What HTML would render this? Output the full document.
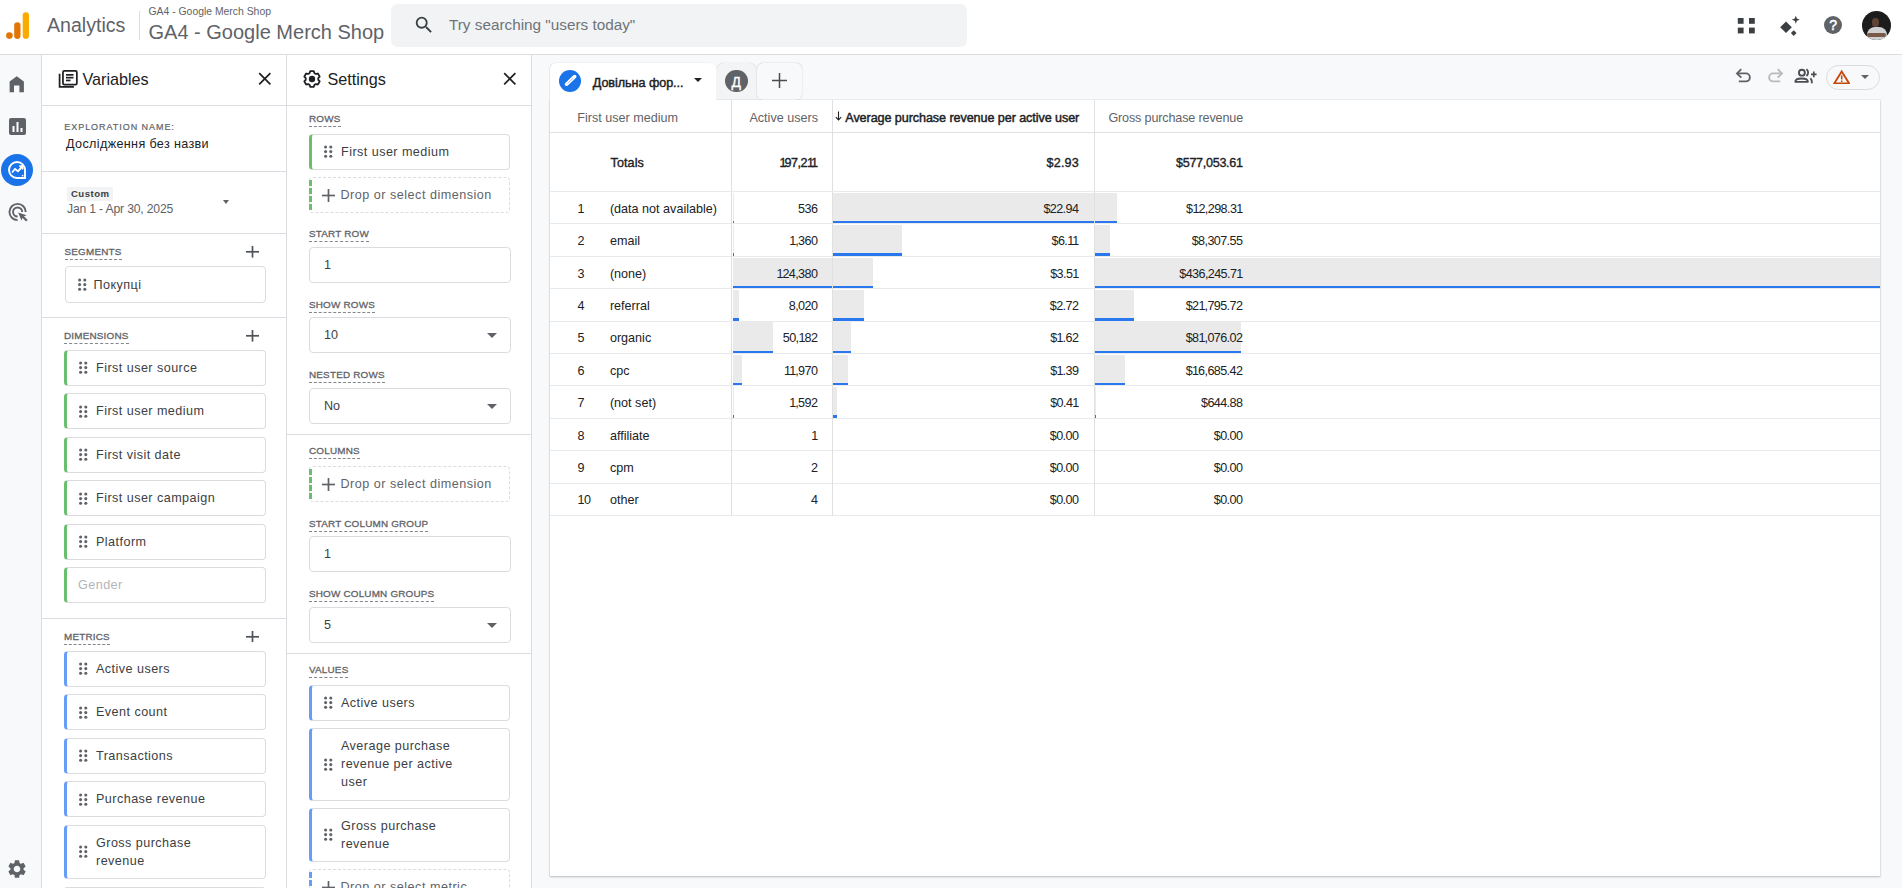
<!DOCTYPE html>
<html><head><meta charset="utf-8">
<style>
*{box-sizing:border-box}
html,body{margin:0;padding:0}
body{width:1902px;height:888px;overflow:hidden;position:relative;background:#f8f9fa;font-family:"Liberation Sans",Arial,sans-serif;color:#202124}
.a{position:absolute}
.t{position:absolute;white-space:nowrap}
#hdr{left:0;top:0;width:1902px;height:55px;background:#fff;border-bottom:1px solid #dadce0}
#rail{left:0;top:55px;width:42px;height:833px;background:#f8f9fa;border-right:1px solid #dadce0}
#vars{left:42px;top:55px;width:245px;height:833px;background:#fff;border-right:1px solid #dadce0}
#sets{left:287px;top:55px;width:245px;height:833px;background:#fff;border-right:1px solid #dadce0}
.hline{position:absolute;height:1px;background:#dadce0}
.lbl{position:absolute;font-size:9.9px;font-weight:400;letter-spacing:0.2px;color:#5f6368;-webkit-text-stroke:0.3px #5f6368;line-height:11px;border-bottom:1px dashed #80868b;padding-bottom:2.1px;white-space:nowrap}
.chip{position:absolute;background:#fff;border:1px solid #dadce0;border-radius:4px;font-size:12.6px;letter-spacing:0.45px;color:#3c4043;white-space:nowrap}
.chip.g{border-left:3px solid #6abf6e}
.chip.b{border-left:3px solid #669df6}
.chip .tx{position:absolute;left:29px;top:50%;transform:translateY(-50%);line-height:18px}
.dots{position:absolute;left:12px;top:50%;margin-top:-6.6px;width:9px;height:13px}
.dots i{position:absolute;width:3.2px;height:3.2px;border-radius:50%;background:#5f6368}
.drop{position:absolute;border:1px dashed #dadce0;border-radius:4px;font-size:12.6px;color:#5f6368;white-space:nowrap}
.drop:before{content:"";position:absolute;left:-1px;top:2px;bottom:2px;border-left:3px dashed #6abf6e}
.drop.bl:before{border-left-color:#669df6}
.inp{position:absolute;border:1px solid #dadce0;border-radius:4px;background:#fff;font-size:12.6px;color:#3c4043}
.inp .v{position:absolute;left:14px;top:50%;transform:translateY(-50%);line-height:16px}
.inp .arr{position:absolute;right:13px;top:50%;margin-top:-2px;width:0;height:0;border-left:5px solid transparent;border-right:5px solid transparent;border-top:5px solid #5f6368}
.plus{position:absolute;width:14px;height:14px}
.plus:before,.plus:after{content:"";position:absolute;background:#3c4043}
.plus:before{left:6px;top:0;width:2px;height:14px}
.plus:after{left:0;top:6px;width:14px;height:2px}
</style></head><body>

<!-- HEADER -->
<div id="hdr" class="a">
  <svg class="a" style="left:5px;top:11px" width="26" height="30" viewBox="0 0 26 30">
    <rect x="17.7" y="1.2" width="6.3" height="26.7" rx="3.15" fill="#f9ab00"/>
    <rect x="9.2" y="11.3" width="6.3" height="16.6" rx="3.15" fill="#e37400"/>
    <circle cx="4.4" cy="24.6" r="3.3" fill="#e37400"/>
  </svg>
  <div class="t" style="left:47px;top:13px;font-size:19.6px;line-height:24px;color:#5f6368">Analytics</div>
  <div class="a" style="left:139px;top:11px;width:1px;height:29px;background:#dadce0"></div>
  <div class="t" style="left:148.5px;top:5px;font-size:10.4px;line-height:13px;color:#5f6368">GA4 - Google Merch Shop</div>
  <div class="t" style="left:148.5px;top:20.3px;font-size:20px;line-height:24px;color:#5f6368">GA4 - Google Merch Shop</div>
  <div class="a" style="left:391px;top:4px;width:576px;height:43px;background:#f1f3f4;border-radius:6.5px"></div>
  <svg class="a" style="left:413px;top:14px" width="22" height="22" viewBox="0 0 24 24"><path fill="#3c4043" d="M15.5 14h-.79l-.28-.27A6.47 6.47 0 0 0 16 9.5 6.5 6.5 0 1 0 9.5 16c1.61 0 3.09-.59 4.23-1.57l.27.28v.79l5 4.99L20.49 19l-4.99-5zm-6 0C7.01 14 5 11.99 5 9.5S7.01 5 9.5 5 14 7.01 14 9.5 11.99 14 9.5 14z"/></svg>
  <div class="t" style="left:449px;top:16px;font-size:15.3px;line-height:18px;color:#6f7378">Try searching "users today"</div>
  <!-- apps grid -->
  <svg class="a" style="left:1737px;top:17px" width="19" height="18" viewBox="0 0 19 18">
    <rect x="0.8" y="1" width="5.8" height="5.8" fill="#3c4043"/><rect x="12" y="1" width="5.8" height="5.8" fill="#3c4043"/>
    <rect x="0.8" y="10.6" width="5.8" height="5.8" fill="#3c4043"/><rect x="12" y="10.6" width="5.8" height="5.8" fill="#3c4043"/>
  </svg>
  <!-- sparkle -->
  <svg class="a" style="left:1779px;top:15px" width="22" height="22" viewBox="0 0 22 22">
    <path d="M7 6.4 L12.8 12.2 L7 18 L1.2 12.2 Z" fill="#3c4043"/>
    <path d="M16.8 0.7 L17.9 3.6 L20.8 4.7 L17.9 5.8 L16.8 8.7 L15.7 5.8 L12.8 4.7 L15.7 3.6 Z" fill="#3c4043"/>
    <path d="M14.7 15.3 L17.5 18.1 L14.7 20.9 L11.9 18.1 Z" fill="#3c4043"/>
  </svg>
  <!-- help -->
  <div class="a" style="left:1824px;top:16px;width:18.3px;height:18.3px;border-radius:50%;background:#5f6368;color:#fff;font-size:14px;line-height:19px;text-align:center;-webkit-text-stroke:0.5px #fff">?</div>
  <!-- avatar -->
  <div class="a" style="left:1862px;top:11px;width:29px;height:29px;border-radius:50%;background:#1c1c1c;overflow:hidden">
    <div class="a" style="left:10.2px;top:6.5px;width:6.8px;height:9px;border-radius:45%;background:#5e4336"></div>
    <div class="a" style="left:4.5px;top:15.5px;width:20px;height:15px;border-radius:8px 8px 1px 1px;background:#cfd0d2"></div>
    <div class="a" style="left:5px;top:21.5px;width:19px;height:4px;border-radius:2px;background:#7a5a47"></div>
  </div>
</div>

<!-- NAV RAIL -->
<div id="rail" class="a">
  <svg class="a" style="left:8px;top:19.5px" width="18" height="19" viewBox="0 0 18 19"><path d="M8.75 1.2 L15.9 6.6 V17.3 H11.4 V10.4 H6 V17.3 H1.6 V6.6 Z" fill="#5f6368"/></svg>
  <svg class="a" style="left:9px;top:63px" width="17" height="17" viewBox="0 0 17 17"><rect x="0" y="0" width="17" height="17" rx="2" fill="#5f6368"/><rect x="3.5" y="8" width="2" height="6" fill="#fff"/><rect x="7.5" y="4" width="2" height="10" fill="#fff"/><rect x="11.5" y="10" width="2" height="4" fill="#fff"/></svg>
  <div class="a" style="left:1px;top:99px;width:32px;height:32px;border-radius:50%;background:#1a73e8"></div>
  <svg class="a" style="left:7px;top:105px" width="20" height="20" viewBox="0 0 20 20"><path d="M18 10 A8 8 0 1 0 10 18 H18 Z" fill="none" stroke="#fff" stroke-width="1.9"/><path d="M5 12.5 L8 9 L11 11.3 L14.8 7" fill="none" stroke="#fff" stroke-width="1.9"/><path d="M12.3 6.2 H15.5 V9.4" fill="none" stroke="#fff" stroke-width="1.7"/><circle cx="15.6" cy="15.6" r="0.9" fill="#fff"/></svg>
  <svg class="a" style="left:8px;top:147px" width="22" height="22" viewBox="0 0 22 22"><path d="M9.6 18.15 A8.15 8.15 0 1 1 17.75 10" fill="none" stroke="#5f6368" stroke-width="1.9"/><path d="M9.6 14.55 A4.55 4.55 0 1 1 14.15 10" fill="none" stroke="#5f6368" stroke-width="1.9"/><path d="M10.2 10.4 L18.6 13.3 L15 14.7 L13.4 18.6 Z" fill="#5f6368"/><path d="M14.4 14.2 L18.9 18.7" stroke="#5f6368" stroke-width="2.3"/></svg>
  <svg class="a" style="left:6.3px;top:803px" width="22" height="22" viewBox="0 0 24 24"><path fill="#5f6368" d="M19.14 12.94c.04-.3.06-.61.06-.94 0-.32-.02-.64-.07-.94l2.03-1.58a.49.49 0 0 0 .12-.61l-1.92-3.32a.488.488 0 0 0-.59-.22l-2.39.96c-.5-.38-1.03-.7-1.62-.94l-.36-2.54a.484.484 0 0 0-.48-.41h-3.84c-.24 0-.43.17-.47.41l-.36 2.54c-.59.24-1.13.57-1.62.94l-2.39-.96c-.22-.08-.47 0-.59.22L2.74 8.87c-.12.21-.08.47.12.61l2.03 1.58c-.05.3-.09.63-.09.94s.02.64.07.94l-2.03 1.58a.49.49 0 0 0-.12.61l1.92 3.32c.12.22.37.29.59.22l2.39-.96c.5.38 1.03.7 1.62.94l.36 2.54c.05.24.24.41.48.41h3.84c.24 0 .44-.17.47-.41l.36-2.54c.59-.24 1.13-.56 1.62-.94l2.39.96c.22.08.47 0 .59-.22l1.92-3.32c.12-.22.07-.47-.12-.61l-2.01-1.58zM12 15.6c-1.98 0-3.6-1.62-3.6-3.6s1.62-3.6 3.6-3.6 3.6 1.62 3.6 3.6-1.62 3.6-3.6 3.6z"/></svg>
</div>

<div id="vars" class="a"></div><div id="sets" class="a"></div>
<svg class="a" style="left:58px;top:70px" width="20" height="18" viewBox="0 0 20 18"><path d="M1.6 3.8 V16.9 H15.9" fill="none" stroke="#202124" stroke-width="1.75"/><rect x="4.95" y="0.95" width="13.9" height="13.6" rx="1.3" fill="none" stroke="#202124" stroke-width="1.75"/><rect x="8" y="4" width="7.5" height="1.7" fill="#202124"/><rect x="8" y="6.8" width="7.5" height="1.7" fill="#202124"/><rect x="8" y="9.6" width="4.5" height="1.7" fill="#202124"/></svg>
<div class="t" style="top:71.09px;font-size:16.2px;line-height:16.2px;left:82.40px;color:#202124;">Variables</div>
<svg class="a" style="left:257.80px;top:72.20px" width="13.6" height="13.6" viewBox="0 0 13.6 13.6"><path d="M1.2 1.2 L12.4 12.4 M12.4 1.2 L1.2 12.4" stroke="#202124" stroke-width="1.75"/></svg>
<div class="a" style="left:42.00px;top:105.00px;width:244.00px;height:1.00px;background:#dadce0"></div>
<div class="t" style="top:122.58px;font-size:9px;line-height:9px;left:64.30px;color:#5f6368;letter-spacing:0.95px;-webkit-text-stroke:0.2px #5f6368;">EXPLORATION NAME:</div>
<div class="t" style="top:137.73px;font-size:12.6px;line-height:12.6px;left:66.10px;color:#202124;letter-spacing:0.35px;">Дослідження без назви</div>
<div class="a" style="left:42.00px;top:171.00px;width:244.00px;height:1.00px;background:#dadce0"></div>
<div class="a" style="left:67.00px;top:187.00px;width:46.00px;height:14.00px;background:#f1f3f4"></div>
<div class="t" style="top:188.97px;font-size:9.6px;line-height:9.6px;left:70.90px;font-weight:700;color:#3c4043;letter-spacing:0.5px;">Custom</div>
<div class="t" style="top:203.27px;font-size:12.2px;line-height:12.2px;left:67.00px;color:#5f6368;letter-spacing:-0.18px;">Jan 1 - Apr 30, 2025</div>
<div class="a" style="left:222.5px;top:200px;width:0;height:0;border-left:3.6px solid transparent;border-right:3.6px solid transparent;border-top:4px solid #5f6368"></div>
<div class="a" style="left:42.00px;top:233.00px;width:244.00px;height:1.00px;background:#dadce0"></div>
<div class="lbl" style="left:64.50px;top:245.80px">SEGMENTS</div>
<svg class="a" style="left:245.80px;top:246.10px" width="13" height="11.6" viewBox="0 0 13 11.6"><rect x="5.65" y="0" width="1.7" height="11.6" fill="#505357"/><rect x="0" y="4.95" width="13" height="1.7" fill="#505357"/></svg>
<div class="chip" style="left:64.50px;top:266.00px;width:201.30px;height:37.00px"><svg class="dots" width="9" height="13" viewBox="0 0 9 13"><g fill="#5f6368"><circle cx="1.6" cy="2" r="1.55"/><circle cx="6.8" cy="2" r="1.55"/><circle cx="1.6" cy="6.6" r="1.55"/><circle cx="6.8" cy="6.6" r="1.55"/><circle cx="1.6" cy="11.2" r="1.55"/><circle cx="6.8" cy="11.2" r="1.55"/></g></svg><span class="tx" style="left:28px">Покупці</span></div>
<div class="a" style="left:42.00px;top:317.00px;width:244.00px;height:1.00px;background:#dadce0"></div>
<div class="lbl" style="left:64.00px;top:330.00px">DIMENSIONS</div>
<svg class="a" style="left:245.90px;top:330.40px" width="13" height="11.6" viewBox="0 0 13 11.6"><rect x="5.65" y="0" width="1.7" height="11.6" fill="#505357"/><rect x="0" y="4.95" width="13" height="1.7" fill="#505357"/></svg>
<div class="chip g" style="left:64.00px;top:350.00px;width:201.50px;height:36.00px"><svg class="dots" width="9" height="13" viewBox="0 0 9 13"><g fill="#5f6368"><circle cx="1.6" cy="2" r="1.55"/><circle cx="6.8" cy="2" r="1.55"/><circle cx="1.6" cy="6.6" r="1.55"/><circle cx="6.8" cy="6.6" r="1.55"/><circle cx="1.6" cy="11.2" r="1.55"/><circle cx="6.8" cy="11.2" r="1.55"/></g></svg><span class="tx" style="left:29px">First user source</span></div>
<div class="chip g" style="left:64.00px;top:393.45px;width:201.50px;height:36.00px"><svg class="dots" width="9" height="13" viewBox="0 0 9 13"><g fill="#5f6368"><circle cx="1.6" cy="2" r="1.55"/><circle cx="6.8" cy="2" r="1.55"/><circle cx="1.6" cy="6.6" r="1.55"/><circle cx="6.8" cy="6.6" r="1.55"/><circle cx="1.6" cy="11.2" r="1.55"/><circle cx="6.8" cy="11.2" r="1.55"/></g></svg><span class="tx" style="left:29px">First user medium</span></div>
<div class="chip g" style="left:64.00px;top:436.90px;width:201.50px;height:36.00px"><svg class="dots" width="9" height="13" viewBox="0 0 9 13"><g fill="#5f6368"><circle cx="1.6" cy="2" r="1.55"/><circle cx="6.8" cy="2" r="1.55"/><circle cx="1.6" cy="6.6" r="1.55"/><circle cx="6.8" cy="6.6" r="1.55"/><circle cx="1.6" cy="11.2" r="1.55"/><circle cx="6.8" cy="11.2" r="1.55"/></g></svg><span class="tx" style="left:29px">First visit date</span></div>
<div class="chip g" style="left:64.00px;top:480.35px;width:201.50px;height:36.00px"><svg class="dots" width="9" height="13" viewBox="0 0 9 13"><g fill="#5f6368"><circle cx="1.6" cy="2" r="1.55"/><circle cx="6.8" cy="2" r="1.55"/><circle cx="1.6" cy="6.6" r="1.55"/><circle cx="6.8" cy="6.6" r="1.55"/><circle cx="1.6" cy="11.2" r="1.55"/><circle cx="6.8" cy="11.2" r="1.55"/></g></svg><span class="tx" style="left:29px">First user campaign</span></div>
<div class="chip g" style="left:64.00px;top:523.80px;width:201.50px;height:36.00px"><svg class="dots" width="9" height="13" viewBox="0 0 9 13"><g fill="#5f6368"><circle cx="1.6" cy="2" r="1.55"/><circle cx="6.8" cy="2" r="1.55"/><circle cx="1.6" cy="6.6" r="1.55"/><circle cx="6.8" cy="6.6" r="1.55"/><circle cx="1.6" cy="11.2" r="1.55"/><circle cx="6.8" cy="11.2" r="1.55"/></g></svg><span class="tx" style="left:29px">Platform</span></div>
<div class="chip g" style="left:64px;top:567.25px;width:201.5px;height:36px"><span class="tx" style="left:11px;color:#b3b5b8">Gender</span></div>
<div class="a" style="left:42.00px;top:618.00px;width:244.00px;height:1.00px;background:#dadce0"></div>
<div class="lbl" style="left:64.00px;top:631.10px">METRICS</div>
<svg class="a" style="left:245.70px;top:630.90px" width="13" height="11.6" viewBox="0 0 13 11.6"><rect x="5.65" y="0" width="1.7" height="11.6" fill="#505357"/><rect x="0" y="4.95" width="13" height="1.7" fill="#505357"/></svg>
<div class="chip b" style="left:64.00px;top:651.00px;width:201.50px;height:36.00px"><svg class="dots" width="9" height="13" viewBox="0 0 9 13"><g fill="#5f6368"><circle cx="1.6" cy="2" r="1.55"/><circle cx="6.8" cy="2" r="1.55"/><circle cx="1.6" cy="6.6" r="1.55"/><circle cx="6.8" cy="6.6" r="1.55"/><circle cx="1.6" cy="11.2" r="1.55"/><circle cx="6.8" cy="11.2" r="1.55"/></g></svg><span class="tx" style="left:29px">Active users</span></div>
<div class="chip b" style="left:64.00px;top:694.45px;width:201.50px;height:36.00px"><svg class="dots" width="9" height="13" viewBox="0 0 9 13"><g fill="#5f6368"><circle cx="1.6" cy="2" r="1.55"/><circle cx="6.8" cy="2" r="1.55"/><circle cx="1.6" cy="6.6" r="1.55"/><circle cx="6.8" cy="6.6" r="1.55"/><circle cx="1.6" cy="11.2" r="1.55"/><circle cx="6.8" cy="11.2" r="1.55"/></g></svg><span class="tx" style="left:29px">Event count</span></div>
<div class="chip b" style="left:64.00px;top:737.90px;width:201.50px;height:36.00px"><svg class="dots" width="9" height="13" viewBox="0 0 9 13"><g fill="#5f6368"><circle cx="1.6" cy="2" r="1.55"/><circle cx="6.8" cy="2" r="1.55"/><circle cx="1.6" cy="6.6" r="1.55"/><circle cx="6.8" cy="6.6" r="1.55"/><circle cx="1.6" cy="11.2" r="1.55"/><circle cx="6.8" cy="11.2" r="1.55"/></g></svg><span class="tx" style="left:29px">Transactions</span></div>
<div class="chip b" style="left:64.00px;top:781.35px;width:201.50px;height:36.00px"><svg class="dots" width="9" height="13" viewBox="0 0 9 13"><g fill="#5f6368"><circle cx="1.6" cy="2" r="1.55"/><circle cx="6.8" cy="2" r="1.55"/><circle cx="1.6" cy="6.6" r="1.55"/><circle cx="6.8" cy="6.6" r="1.55"/><circle cx="1.6" cy="11.2" r="1.55"/><circle cx="6.8" cy="11.2" r="1.55"/></g></svg><span class="tx" style="left:29px">Purchase revenue</span></div>
<div class="chip b" style="left:64.00px;top:825.00px;width:201.50px;height:53.50px"><svg class="dots" width="9" height="13" viewBox="0 0 9 13"><g fill="#5f6368"><circle cx="1.6" cy="2" r="1.55"/><circle cx="6.8" cy="2" r="1.55"/><circle cx="1.6" cy="6.6" r="1.55"/><circle cx="6.8" cy="6.6" r="1.55"/><circle cx="1.6" cy="11.2" r="1.55"/><circle cx="6.8" cy="11.2" r="1.55"/></g></svg><span class="tx" style="left:29px">Gross purchase<br>revenue</span></div>
<div class="chip b" style="left:64.00px;top:886.50px;width:201.50px;height:35.00px"><svg class="dots" width="9" height="13" viewBox="0 0 9 13"><g fill="#5f6368"><circle cx="1.6" cy="2" r="1.55"/><circle cx="6.8" cy="2" r="1.55"/><circle cx="1.6" cy="6.6" r="1.55"/><circle cx="6.8" cy="6.6" r="1.55"/><circle cx="1.6" cy="11.2" r="1.55"/><circle cx="6.8" cy="11.2" r="1.55"/></g></svg><span class="tx" style="left:29px">Item revenue</span></div>
<svg class="a" style="left:302.4px;top:69px" width="20" height="20" viewBox="0 0 20 20"><path d="M7.54 4.20 L8.19 2.16 L11.81 2.16 L12.46 4.20 L13.79 4.97 L15.89 4.51 L17.70 7.65 L16.25 9.23 L16.25 10.77 L17.70 12.35 L15.89 15.49 L13.79 15.03 L12.46 15.80 L11.81 17.84 L8.19 17.84 L7.54 15.80 L6.21 15.03 L4.11 15.49 L2.30 12.35 L3.75 10.77 L3.75 9.23 L2.30 7.65 L4.11 4.51 L6.21 4.97 Z" fill="none" stroke="#202124" stroke-width="1.8" stroke-linejoin="round"/><circle cx="10" cy="10" r="3.2" fill="#202124"/></svg>
<div class="t" style="top:71.09px;font-size:16.2px;line-height:16.2px;left:327.40px;color:#202124;">Settings</div>
<svg class="a" style="left:502.80px;top:72.20px" width="13.6" height="13.6" viewBox="0 0 13.6 13.6"><path d="M1.2 1.2 L12.4 12.4 M12.4 1.2 L1.2 12.4" stroke="#202124" stroke-width="1.75"/></svg>
<div class="a" style="left:287.00px;top:105.00px;width:244.00px;height:1.00px;background:#dadce0"></div>
<div class="lbl" style="left:309.00px;top:113.00px">ROWS</div>
<div class="chip g" style="left:309.00px;top:134.00px;width:200.80px;height:36.00px"><svg class="dots" width="9" height="13" viewBox="0 0 9 13"><g fill="#5f6368"><circle cx="1.6" cy="2" r="1.55"/><circle cx="6.8" cy="2" r="1.55"/><circle cx="1.6" cy="6.6" r="1.55"/><circle cx="6.8" cy="6.6" r="1.55"/><circle cx="1.6" cy="11.2" r="1.55"/><circle cx="6.8" cy="11.2" r="1.55"/></g></svg><span class="tx" style="left:29px">First user medium</span></div>
<div class="drop" style="left:309.00px;top:177.00px;width:201.00px;height:36.00px"></div>
<svg class="a" style="left:322.00px;top:188.50px" width="13" height="13" viewBox="0 0 13 13"><rect x="5.65" y="0" width="1.7" height="13" fill="#5f6368"/><rect x="0" y="5.65" width="13" height="1.7" fill="#5f6368"/></svg>
<div class="t" style="top:188.83px;font-size:12.6px;line-height:12.6px;left:340.50px;color:#5f6368;letter-spacing:0.5px;">Drop or select dimension</div>
<div class="lbl" style="left:309.00px;top:227.90px">START ROW</div>
<div class="inp" style="left:309.00px;top:247.00px;width:201.50px;height:36.00px"><span class="v">1</span></div>
<div class="lbl" style="left:309.00px;top:299.00px">SHOW ROWS</div>
<div class="inp" style="left:309.00px;top:317.00px;width:201.50px;height:36.00px"><span class="v">10</span><span class="arr"></span></div>
<div class="lbl" style="left:309.00px;top:369.40px">NESTED ROWS</div>
<div class="inp" style="left:309.00px;top:388.00px;width:201.50px;height:36.00px"><span class="v">No</span><span class="arr"></span></div>
<div class="a" style="left:287.00px;top:434.00px;width:244.00px;height:1.00px;background:#dadce0"></div>
<div class="lbl" style="left:309.00px;top:445.10px">COLUMNS</div>
<div class="drop" style="left:309.00px;top:466.00px;width:201.00px;height:36.00px"></div>
<svg class="a" style="left:322.00px;top:477.50px" width="13" height="13" viewBox="0 0 13 13"><rect x="5.65" y="0" width="1.7" height="13" fill="#5f6368"/><rect x="0" y="5.65" width="13" height="1.7" fill="#5f6368"/></svg>
<div class="t" style="top:477.83px;font-size:12.6px;line-height:12.6px;left:340.50px;color:#5f6368;letter-spacing:0.5px;">Drop or select dimension</div>
<div class="lbl" style="left:309.00px;top:517.90px">START COLUMN GROUP</div>
<div class="inp" style="left:309.00px;top:536.00px;width:201.50px;height:36.00px"><span class="v">1</span></div>
<div class="lbl" style="left:309.00px;top:588.40px">SHOW COLUMN GROUPS</div>
<div class="inp" style="left:309.00px;top:607.00px;width:201.50px;height:36.00px"><span class="v">5</span><span class="arr"></span></div>
<div class="a" style="left:287.00px;top:653.00px;width:244.00px;height:1.00px;background:#dadce0"></div>
<div class="lbl" style="left:309.00px;top:664.00px">VALUES</div>
<div class="chip b" style="left:309.00px;top:685.00px;width:200.80px;height:36.00px"><svg class="dots" width="9" height="13" viewBox="0 0 9 13"><g fill="#5f6368"><circle cx="1.6" cy="2" r="1.55"/><circle cx="6.8" cy="2" r="1.55"/><circle cx="1.6" cy="6.6" r="1.55"/><circle cx="6.8" cy="6.6" r="1.55"/><circle cx="1.6" cy="11.2" r="1.55"/><circle cx="6.8" cy="11.2" r="1.55"/></g></svg><span class="tx" style="left:29px">Active users</span></div>
<div class="chip b" style="left:309.00px;top:728.00px;width:200.80px;height:72.50px"><svg class="dots" width="9" height="13" viewBox="0 0 9 13"><g fill="#5f6368"><circle cx="1.6" cy="2" r="1.55"/><circle cx="6.8" cy="2" r="1.55"/><circle cx="1.6" cy="6.6" r="1.55"/><circle cx="6.8" cy="6.6" r="1.55"/><circle cx="1.6" cy="11.2" r="1.55"/><circle cx="6.8" cy="11.2" r="1.55"/></g></svg><span class="tx" style="left:29px">Average purchase<br>revenue per active<br>user</span></div>
<div class="chip b" style="left:309.00px;top:808.00px;width:200.80px;height:53.50px"><svg class="dots" width="9" height="13" viewBox="0 0 9 13"><g fill="#5f6368"><circle cx="1.6" cy="2" r="1.55"/><circle cx="6.8" cy="2" r="1.55"/><circle cx="1.6" cy="6.6" r="1.55"/><circle cx="6.8" cy="6.6" r="1.55"/><circle cx="1.6" cy="11.2" r="1.55"/><circle cx="6.8" cy="11.2" r="1.55"/></g></svg><span class="tx" style="left:29px">Gross purchase<br>revenue</span></div>
<div class="drop bl" style="left:309.00px;top:869.00px;width:201.00px;height:36.00px"></div>
<svg class="a" style="left:322.00px;top:880.50px" width="13" height="13" viewBox="0 0 13 13"><rect x="5.65" y="0" width="1.7" height="13" fill="#5f6368"/><rect x="0" y="5.65" width="13" height="1.7" fill="#5f6368"/></svg>
<div class="t" style="top:880.83px;font-size:12.6px;line-height:12.6px;left:340.50px;color:#5f6368;letter-spacing:0.5px;">Drop or select metric</div>
<div class="a" style="left:549.5px;top:63px;width:166.5px;height:38px;background:#fff;border-radius:6px 6px 0 0;box-shadow:-0.6px -0.3px 0 #dadce0"></div>
<div class="a" style="left:559px;top:69.6px;width:22px;height:22px;border-radius:50%;background:#1a73e8"></div>
<svg class="a" style="left:563px;top:73.6px" width="14" height="14" viewBox="0 0 14 14"><path d="M3.6 10.2 L11.6 2.6" stroke="#fff" stroke-width="3.6" stroke-linecap="round"/><path d="M4.6 9.4 L10.4 3.9" stroke="#7aa7f0" stroke-width="0.7"/></svg>
<div class="t" style="top:76.93px;font-size:12.6px;line-height:12.6px;left:592.80px;color:#202124;letter-spacing:-0.05px;-webkit-text-stroke:0.45px #202124;">Довільна фор...</div>
<div class="a" style="left:694px;top:78px;width:0;height:0;border-left:4.6px solid transparent;border-right:4.6px solid transparent;border-top:4.8px solid #202124"></div>
<div class="a" style="left:717px;top:63px;width:39px;height:37px;background:#f3f4f6;border-radius:6px 6px 0 0;box-shadow:0 0 1px rgba(0,0,0,.25)"></div>
<div class="a" style="left:725px;top:69.5px;width:22.5px;height:22.5px;border-radius:50%;background:#5f6368;color:#fff;font-size:14px;line-height:24px;text-align:center;-webkit-text-stroke:0.3px #fff">Д</div>
<div class="a" style="left:757px;top:63px;width:45px;height:37px;background:#f8f9fa;border-radius:6px;box-shadow:0 0 1.2px rgba(0,0,0,.3)"></div>
<svg class="a" style="left:772.40px;top:72.70px" width="15" height="15" viewBox="0 0 15 15"><rect x="6.75" y="0" width="1.5" height="15" fill="#4a4e52"/><rect x="0" y="6.75" width="15" height="1.5" fill="#4a4e52"/></svg>
<svg class="a" style="left:1734px;top:67px" width="19" height="17" viewBox="0 0 19 17"><path d="M7.3 2.1 L3 6.4 L7.3 10.7" fill="none" stroke="#5f6368" stroke-width="1.9"/><path d="M3 6.4 H11.85 A4 4 0 0 1 11.85 14.4 H4.8" fill="none" stroke="#5f6368" stroke-width="1.9"/></svg>
<svg class="a" style="left:1765.9px;top:67px" width="19" height="17" viewBox="0 0 19 17"><g transform="translate(19,0) scale(-1,1)"><path d="M7.3 2.1 L3 6.4 L7.3 10.7" fill="none" stroke="#b8babd" stroke-width="1.9"/><path d="M3 6.4 H11.85 A4 4 0 0 1 11.85 14.4 H4.8" fill="none" stroke="#b8babd" stroke-width="1.9"/></g></svg>
<svg class="a" style="left:1793px;top:67px" width="25" height="18" viewBox="0 0 25 18"><circle cx="8.9" cy="5.7" r="2.95" fill="none" stroke="#4a4d51" stroke-width="1.9"/><path d="M2.35 14.85 C2.35 12 5.5 11.55 8.6 11.55 C11.7 11.55 14.85 12 14.85 14.85 Z" fill="none" stroke="#4a4d51" stroke-width="1.9" stroke-linejoin="round"/><path d="M13.4 2.1 A4.3 4.3 0 0 1 13.4 9" fill="none" stroke="#4a4d51" stroke-width="1.8"/><path d="M17.4 11.2 C18.6 12.2 18.9 13.8 18.9 16.3" fill="none" stroke="#4a4d51" stroke-width="1.8"/><path d="M20.8 4.6 V10.2 M18 7.4 H23.6" stroke="#4a4d51" stroke-width="1.7"/></svg>
<div class="a" style="left:1826px;top:65px;width:54px;height:25px;border:1px solid #dadce0;border-radius:13px"></div>
<svg class="a" style="left:1832.8px;top:69.5px" width="17.4" height="14.5" viewBox="0 0 18 15"><path d="M9 1.5 L16.8 14 H1.2 Z" fill="none" stroke="#c5480a" stroke-width="1.9" stroke-linejoin="miter"/><rect x="8.2" y="5.5" width="1.6" height="4.3" fill="#c5480a"/><rect x="8.2" y="10.8" width="1.6" height="1.6" fill="#c5480a"/></svg>
<div class="a" style="left:1861px;top:75px;width:0;height:0;border-left:4.2px solid transparent;border-right:4.2px solid transparent;border-top:4.5px solid #5f6368"></div>
<div class="a" style="left:549.5px;top:100px;width:1330.5px;height:775.5px;background:#fff;box-shadow:0 1px 2px rgba(60,64,67,.3),0 0 1px rgba(60,64,67,.25)"></div>
<div class="a" style="left:550px;top:99px;width:166px;height:3px;background:#fff"></div>
<div class="a" style="left:732.50px;top:192.70px;width:0.43px;height:30.70px;background:#eaeaea"></div>
<div class="a" style="left:732.50px;top:221.00px;width:0.43px;height:2.40px;background:#2a78ee"></div>
<div class="a" style="left:832.50px;top:192.70px;width:261.50px;height:30.70px;background:#eaeaea"></div>
<div class="a" style="left:832.50px;top:221.00px;width:261.50px;height:2.40px;background:#2a78ee"></div>
<div class="a" style="left:1095.00px;top:192.70px;width:22.13px;height:30.70px;background:#eaeaea"></div>
<div class="a" style="left:1095.00px;top:221.00px;width:22.13px;height:2.40px;background:#2a78ee"></div>
<div class="a" style="left:550.00px;top:223.40px;width:1330.00px;height:1.00px;background:#e8eaed"></div>
<div class="a" style="left:732.50px;top:225.10px;width:1.09px;height:30.70px;background:#eaeaea"></div>
<div class="a" style="left:732.50px;top:253.40px;width:1.09px;height:2.40px;background:#2a78ee"></div>
<div class="a" style="left:832.50px;top:225.10px;width:69.65px;height:30.70px;background:#eaeaea"></div>
<div class="a" style="left:832.50px;top:253.40px;width:69.65px;height:2.40px;background:#2a78ee"></div>
<div class="a" style="left:1095.00px;top:225.10px;width:14.95px;height:30.70px;background:#eaeaea"></div>
<div class="a" style="left:1095.00px;top:253.40px;width:14.95px;height:2.40px;background:#2a78ee"></div>
<div class="a" style="left:550.00px;top:255.80px;width:1330.00px;height:1.00px;background:#e8eaed"></div>
<div class="a" style="left:732.50px;top:257.50px;width:99.50px;height:30.70px;background:#eaeaea"></div>
<div class="a" style="left:732.50px;top:285.80px;width:99.50px;height:2.40px;background:#2a78ee"></div>
<div class="a" style="left:832.50px;top:257.50px;width:40.01px;height:30.70px;background:#eaeaea"></div>
<div class="a" style="left:832.50px;top:285.80px;width:40.01px;height:2.40px;background:#2a78ee"></div>
<div class="a" style="left:1095.00px;top:257.50px;width:785.00px;height:30.70px;background:#eaeaea"></div>
<div class="a" style="left:1095.00px;top:285.80px;width:785.00px;height:2.40px;background:#2a78ee"></div>
<div class="a" style="left:550.00px;top:288.20px;width:1330.00px;height:1.00px;background:#e8eaed"></div>
<div class="a" style="left:732.50px;top:289.90px;width:6.42px;height:30.70px;background:#eaeaea"></div>
<div class="a" style="left:732.50px;top:318.20px;width:6.42px;height:2.40px;background:#2a78ee"></div>
<div class="a" style="left:832.50px;top:289.90px;width:31.01px;height:30.70px;background:#eaeaea"></div>
<div class="a" style="left:832.50px;top:318.20px;width:31.01px;height:2.40px;background:#2a78ee"></div>
<div class="a" style="left:1095.00px;top:289.90px;width:39.22px;height:30.70px;background:#eaeaea"></div>
<div class="a" style="left:1095.00px;top:318.20px;width:39.22px;height:2.40px;background:#2a78ee"></div>
<div class="a" style="left:550.00px;top:320.60px;width:1330.00px;height:1.00px;background:#e8eaed"></div>
<div class="a" style="left:732.50px;top:322.30px;width:40.14px;height:30.70px;background:#eaeaea"></div>
<div class="a" style="left:732.50px;top:350.60px;width:40.14px;height:2.40px;background:#2a78ee"></div>
<div class="a" style="left:832.50px;top:322.30px;width:18.47px;height:30.70px;background:#eaeaea"></div>
<div class="a" style="left:832.50px;top:350.60px;width:18.47px;height:2.40px;background:#2a78ee"></div>
<div class="a" style="left:1095.00px;top:322.30px;width:145.89px;height:30.70px;background:#eaeaea"></div>
<div class="a" style="left:1095.00px;top:350.60px;width:145.89px;height:2.40px;background:#2a78ee"></div>
<div class="a" style="left:550.00px;top:353.00px;width:1330.00px;height:1.00px;background:#e8eaed"></div>
<div class="a" style="left:732.50px;top:354.70px;width:9.58px;height:30.70px;background:#eaeaea"></div>
<div class="a" style="left:732.50px;top:383.00px;width:9.58px;height:2.40px;background:#2a78ee"></div>
<div class="a" style="left:832.50px;top:354.70px;width:15.85px;height:30.70px;background:#eaeaea"></div>
<div class="a" style="left:832.50px;top:383.00px;width:15.85px;height:2.40px;background:#2a78ee"></div>
<div class="a" style="left:1095.00px;top:354.70px;width:30.02px;height:30.70px;background:#eaeaea"></div>
<div class="a" style="left:1095.00px;top:383.00px;width:30.02px;height:2.40px;background:#2a78ee"></div>
<div class="a" style="left:550.00px;top:385.40px;width:1330.00px;height:1.00px;background:#e8eaed"></div>
<div class="a" style="left:732.50px;top:387.10px;width:1.27px;height:30.70px;background:#eaeaea"></div>
<div class="a" style="left:732.50px;top:415.40px;width:1.27px;height:2.40px;background:#2a78ee"></div>
<div class="a" style="left:832.50px;top:387.10px;width:4.67px;height:30.70px;background:#eaeaea"></div>
<div class="a" style="left:832.50px;top:415.40px;width:4.67px;height:2.40px;background:#2a78ee"></div>
<div class="a" style="left:1095.00px;top:387.10px;width:1.16px;height:30.70px;background:#eaeaea"></div>
<div class="a" style="left:1095.00px;top:415.40px;width:1.16px;height:2.40px;background:#2a78ee"></div>
<div class="a" style="left:550.00px;top:417.80px;width:1330.00px;height:1.00px;background:#e8eaed"></div>
<div class="a" style="left:550.00px;top:450.20px;width:1330.00px;height:1.00px;background:#e8eaed"></div>
<div class="a" style="left:550.00px;top:482.60px;width:1330.00px;height:1.00px;background:#e8eaed"></div>
<div class="a" style="left:550.00px;top:515.00px;width:1330.00px;height:1.00px;background:#e8eaed"></div>
<div class="a" style="left:731.00px;top:100.00px;width:1.00px;height:415.50px;background:#e0e0e0"></div>
<div class="a" style="left:832.00px;top:100.00px;width:1.00px;height:415.50px;background:#e0e0e0"></div>
<div class="a" style="left:1094.00px;top:100.00px;width:1.00px;height:415.50px;background:#e0e0e0"></div>
<div class="a" style="left:550.00px;top:132.00px;width:1330.00px;height:1.00px;background:#e0e0e0"></div>
<div class="a" style="left:550.00px;top:191.00px;width:1330.00px;height:1.00px;background:#e8eaed"></div>
<div class="t" style="top:111.93px;font-size:12.6px;line-height:12.6px;left:577.30px;color:#5f6368;">First user medium</div>
<div class="t" style="top:111.93px;font-size:12.6px;line-height:12.6px;right:1084.00px;text-align:right;color:#5f6368;">Active users</div>
<div class="t" style="top:111.93px;font-size:12.6px;line-height:12.6px;right:822.80px;text-align:right;color:#202124;letter-spacing:-0.08px;-webkit-text-stroke:0.45px #202124;">Average purchase revenue per active user</div>
<svg class="a" style="left:834.5px;top:111px" width="7" height="10" viewBox="0 0 7 10"><path d="M3.5 0.5 V9 M0.8 6.2 L3.5 9 L6.2 6.2" fill="none" stroke="#202124" stroke-width="1.1"/></svg>
<div class="t" style="top:111.93px;font-size:12.6px;line-height:12.6px;left:1108.40px;color:#5f6368;letter-spacing:-0.15px;">Gross purchase revenue</div>
<div class="t" style="top:156.93px;font-size:12.6px;line-height:12.6px;left:610.50px;color:#202124;letter-spacing:0.1px;-webkit-text-stroke:0.35px #202124;">Totals</div>
<div class="t" style="top:156.93px;font-size:12.6px;line-height:12.6px;right:1086.00px;text-align:right;color:#202124;letter-spacing:-0.5px;-webkit-text-stroke:0.35px #202124;"><span style="letter-spacing:-2.0px">1</span>97,2<span style="letter-spacing:-2.0px">1</span><span style="letter-spacing:-2.0px">1</span></div>
<div class="t" style="top:156.93px;font-size:12.6px;line-height:12.6px;right:823.00px;text-align:right;color:#202124;letter-spacing:0.2px;-webkit-text-stroke:0.35px #202124;">$2.93</div>
<div class="t" style="top:156.93px;font-size:12.6px;line-height:12.6px;right:660.40px;text-align:right;color:#202124;letter-spacing:-0.3px;-webkit-text-stroke:0.35px #202124;">$577,053.6<span style="letter-spacing:-1.4px">1</span></div>
<div class="t" style="top:202.73px;font-size:12.6px;line-height:12.6px;left:577.40px;color:#202124;letter-spacing:-0.4px;">1</div>
<div class="t" style="top:202.73px;font-size:12.6px;line-height:12.6px;left:609.90px;color:#202124;">(data not available)</div>
<div class="t" style="top:202.73px;font-size:12.6px;line-height:12.6px;right:1084.70px;text-align:right;color:#202124;letter-spacing:-0.6px;">536</div>
<div class="t" style="top:202.73px;font-size:12.6px;line-height:12.6px;right:823.70px;text-align:right;color:#202124;letter-spacing:-0.6px;">$22.94</div>
<div class="t" style="top:202.73px;font-size:12.6px;line-height:12.6px;right:659.70px;text-align:right;color:#202124;letter-spacing:-0.6px;">$<span style="letter-spacing:-1.0px">1</span>2,298.3<span style="letter-spacing:-1.0px">1</span></div>
<div class="t" style="top:235.13px;font-size:12.6px;line-height:12.6px;left:577.40px;color:#202124;letter-spacing:-0.4px;">2</div>
<div class="t" style="top:235.13px;font-size:12.6px;line-height:12.6px;left:609.90px;color:#202124;">email</div>
<div class="t" style="top:235.13px;font-size:12.6px;line-height:12.6px;right:1084.70px;text-align:right;color:#202124;letter-spacing:-0.6px;"><span style="letter-spacing:-1.0px">1</span>,360</div>
<div class="t" style="top:235.13px;font-size:12.6px;line-height:12.6px;right:823.70px;text-align:right;color:#202124;letter-spacing:-0.6px;">$6.<span style="letter-spacing:-1.0px">1</span><span style="letter-spacing:-1.0px">1</span></div>
<div class="t" style="top:235.13px;font-size:12.6px;line-height:12.6px;right:659.70px;text-align:right;color:#202124;letter-spacing:-0.6px;">$8,307.55</div>
<div class="t" style="top:267.53px;font-size:12.6px;line-height:12.6px;left:577.40px;color:#202124;letter-spacing:-0.4px;">3</div>
<div class="t" style="top:267.53px;font-size:12.6px;line-height:12.6px;left:609.90px;color:#202124;">(none)</div>
<div class="t" style="top:267.53px;font-size:12.6px;line-height:12.6px;right:1084.70px;text-align:right;color:#202124;letter-spacing:-0.6px;"><span style="letter-spacing:-1.0px">1</span>24,380</div>
<div class="t" style="top:267.53px;font-size:12.6px;line-height:12.6px;right:823.70px;text-align:right;color:#202124;letter-spacing:-0.6px;">$3.5<span style="letter-spacing:-1.0px">1</span></div>
<div class="t" style="top:267.53px;font-size:12.6px;line-height:12.6px;right:659.70px;text-align:right;color:#202124;letter-spacing:-0.6px;">$436,245.7<span style="letter-spacing:-1.0px">1</span></div>
<div class="t" style="top:299.93px;font-size:12.6px;line-height:12.6px;left:577.40px;color:#202124;letter-spacing:-0.4px;">4</div>
<div class="t" style="top:299.93px;font-size:12.6px;line-height:12.6px;left:609.90px;color:#202124;">referral</div>
<div class="t" style="top:299.93px;font-size:12.6px;line-height:12.6px;right:1084.70px;text-align:right;color:#202124;letter-spacing:-0.6px;">8,020</div>
<div class="t" style="top:299.93px;font-size:12.6px;line-height:12.6px;right:823.70px;text-align:right;color:#202124;letter-spacing:-0.6px;">$2.72</div>
<div class="t" style="top:299.93px;font-size:12.6px;line-height:12.6px;right:659.70px;text-align:right;color:#202124;letter-spacing:-0.6px;">$2<span style="letter-spacing:-1.0px">1</span>,795.72</div>
<div class="t" style="top:332.33px;font-size:12.6px;line-height:12.6px;left:577.40px;color:#202124;letter-spacing:-0.4px;">5</div>
<div class="t" style="top:332.33px;font-size:12.6px;line-height:12.6px;left:609.90px;color:#202124;">organic</div>
<div class="t" style="top:332.33px;font-size:12.6px;line-height:12.6px;right:1084.70px;text-align:right;color:#202124;letter-spacing:-0.6px;">50,<span style="letter-spacing:-1.0px">1</span>82</div>
<div class="t" style="top:332.33px;font-size:12.6px;line-height:12.6px;right:823.70px;text-align:right;color:#202124;letter-spacing:-0.6px;">$<span style="letter-spacing:-1.0px">1</span>.62</div>
<div class="t" style="top:332.33px;font-size:12.6px;line-height:12.6px;right:659.70px;text-align:right;color:#202124;letter-spacing:-0.6px;">$8<span style="letter-spacing:-1.0px">1</span>,076.02</div>
<div class="t" style="top:364.73px;font-size:12.6px;line-height:12.6px;left:577.40px;color:#202124;letter-spacing:-0.4px;">6</div>
<div class="t" style="top:364.73px;font-size:12.6px;line-height:12.6px;left:609.90px;color:#202124;">cpc</div>
<div class="t" style="top:364.73px;font-size:12.6px;line-height:12.6px;right:1084.70px;text-align:right;color:#202124;letter-spacing:-0.6px;"><span style="letter-spacing:-1.0px">1</span><span style="letter-spacing:-1.0px">1</span>,970</div>
<div class="t" style="top:364.73px;font-size:12.6px;line-height:12.6px;right:823.70px;text-align:right;color:#202124;letter-spacing:-0.6px;">$<span style="letter-spacing:-1.0px">1</span>.39</div>
<div class="t" style="top:364.73px;font-size:12.6px;line-height:12.6px;right:659.70px;text-align:right;color:#202124;letter-spacing:-0.6px;">$<span style="letter-spacing:-1.0px">1</span>6,685.42</div>
<div class="t" style="top:397.13px;font-size:12.6px;line-height:12.6px;left:577.40px;color:#202124;letter-spacing:-0.4px;">7</div>
<div class="t" style="top:397.13px;font-size:12.6px;line-height:12.6px;left:609.90px;color:#202124;">(not set)</div>
<div class="t" style="top:397.13px;font-size:12.6px;line-height:12.6px;right:1084.70px;text-align:right;color:#202124;letter-spacing:-0.6px;"><span style="letter-spacing:-1.0px">1</span>,592</div>
<div class="t" style="top:397.13px;font-size:12.6px;line-height:12.6px;right:823.70px;text-align:right;color:#202124;letter-spacing:-0.6px;">$0.4<span style="letter-spacing:-1.0px">1</span></div>
<div class="t" style="top:397.13px;font-size:12.6px;line-height:12.6px;right:659.70px;text-align:right;color:#202124;letter-spacing:-0.6px;">$644.88</div>
<div class="t" style="top:429.53px;font-size:12.6px;line-height:12.6px;left:577.40px;color:#202124;letter-spacing:-0.4px;">8</div>
<div class="t" style="top:429.53px;font-size:12.6px;line-height:12.6px;left:609.90px;color:#202124;">affiliate</div>
<div class="t" style="top:429.53px;font-size:12.6px;line-height:12.6px;right:1084.70px;text-align:right;color:#202124;letter-spacing:-0.6px;"><span style="letter-spacing:-1.0px">1</span></div>
<div class="t" style="top:429.53px;font-size:12.6px;line-height:12.6px;right:823.70px;text-align:right;color:#202124;letter-spacing:-0.6px;">$0.00</div>
<div class="t" style="top:429.53px;font-size:12.6px;line-height:12.6px;right:659.70px;text-align:right;color:#202124;letter-spacing:-0.6px;">$0.00</div>
<div class="t" style="top:461.93px;font-size:12.6px;line-height:12.6px;left:577.40px;color:#202124;letter-spacing:-0.4px;">9</div>
<div class="t" style="top:461.93px;font-size:12.6px;line-height:12.6px;left:609.90px;color:#202124;">cpm</div>
<div class="t" style="top:461.93px;font-size:12.6px;line-height:12.6px;right:1084.70px;text-align:right;color:#202124;letter-spacing:-0.6px;">2</div>
<div class="t" style="top:461.93px;font-size:12.6px;line-height:12.6px;right:823.70px;text-align:right;color:#202124;letter-spacing:-0.6px;">$0.00</div>
<div class="t" style="top:461.93px;font-size:12.6px;line-height:12.6px;right:659.70px;text-align:right;color:#202124;letter-spacing:-0.6px;">$0.00</div>
<div class="t" style="top:494.33px;font-size:12.6px;line-height:12.6px;left:577.40px;color:#202124;letter-spacing:-0.4px;">10</div>
<div class="t" style="top:494.33px;font-size:12.6px;line-height:12.6px;left:609.90px;color:#202124;">other</div>
<div class="t" style="top:494.33px;font-size:12.6px;line-height:12.6px;right:1084.70px;text-align:right;color:#202124;letter-spacing:-0.6px;">4</div>
<div class="t" style="top:494.33px;font-size:12.6px;line-height:12.6px;right:823.70px;text-align:right;color:#202124;letter-spacing:-0.6px;">$0.00</div>
<div class="t" style="top:494.33px;font-size:12.6px;line-height:12.6px;right:659.70px;text-align:right;color:#202124;letter-spacing:-0.6px;">$0.00</div>
</body></html>
